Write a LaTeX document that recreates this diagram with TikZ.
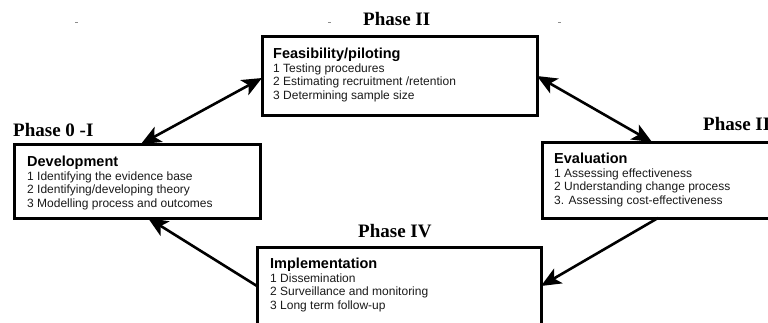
\documentclass[tikz,border=0pt]{standalone}
\usepackage{fontspec}
\setmainfont{Liberation Serif}
\newfontfamily\arial{Liberation Sans}
\usetikzlibrary{arrows.meta,calc}
\tikzset{
  box/.style={draw=black, line width=3pt, rectangle, outer sep=0pt, inner sep=0pt},
  phase/.style={anchor=base west, inner sep=0pt, font=\fontsize{19}{22}\selectfont\bfseries},
  ttl/.style={anchor=base west, inner sep=0pt, font=\arial\fontsize{14.5}{16}\selectfont\bfseries},
  itm/.style={anchor=base west, inner sep=0pt, font=\arial\fontsize{12}{13.5}\selectfont, text=black!90},
  conn/.style={line width=2.6pt, -{Stealth[length=20pt,width=17pt,inset=5pt]}},
  dconn/.style={line width=2.6pt, {Stealth[length=20pt,width=17pt,inset=5pt]}-{Stealth[length=20pt,width=17pt,inset=5pt]}},
  speck/.style={draw=black!45, line width=1pt}
}
\begin{document}
\begin{tikzpicture}[x=1pt,y=-1pt]
\useasboundingbox (0,0) rectangle (768,322);
% boxes
\node[box, minimum width=246pt, minimum height=74pt] (dev) at (137,181) {};
\node[box, minimum width=275pt, minimum height=79pt] (feas) at (399.5,75.5) {};
\node[box, minimum width=278pt, minimum height=76pt] (eval) at (681,180) {};
\node[box, minimum width=284pt, minimum height=93pt] (impl) at (399,293.5) {};
% phase labels
\node[phase] (p2) at (363,25) {Phase II};
\node[phase] (p0) at (13,136) {Phase 0 -I};
\node[phase] (p3) at (703,130) {Phase III};
\node[phase] (p4) at (358,237) {Phase IV};
% development text
\node[ttl] (d0) at ($(dev.north west)+(13,22)$) {Development};
\node[itm] (d1) at ($(dev.north west)+(13,36)$) {1 Identifying the evidence base};
\node[itm] (d2) at ($(dev.north west)+(13,49.5)$) {2 Identifying/developing theory};
\node[itm] (d3) at ($(dev.north west)+(13,63)$) {3 Modelling process and outcomes};
% feasibility text
\node[ttl] (f0) at ($(feas.north west)+(11,22)$) {Feasibility/piloting};
\node[itm] (f1) at ($(feas.north west)+(11,36)$) {1 Testing procedures};
\node[itm] (f2) at ($(feas.north west)+(11,49.5)$) {2 Estimating recruitment /retention};
\node[itm] (f3) at ($(feas.north west)+(11,63)$) {3 Determining sample size};
% evaluation text
\node[ttl] (e0) at ($(eval.north west)+(12,21)$) {Evaluation};
\node[itm] (e1) at ($(eval.north west)+(12,35)$) {1 Assessing effectiveness};
\node[itm] (e2) at ($(eval.north west)+(12,48.5)$) {2 Understanding change process};
\node[itm] (e3) at ($(eval.north west)+(12,62)$) {3. Assessing cost-effectiveness};
% implementation text
\node[ttl] (i0) at ($(impl.north west)+(13,21)$) {Implementation};
\node[itm] (i1) at ($(impl.north west)+(13,35)$) {1 Dissemination};
\node[itm] (i2) at ($(impl.north west)+(13,48.5)$) {2 Surveillance and monitoring};
\node[itm] (i3) at ($(impl.north west)+(13,62)$) {3 Long term follow-up};
% connector ends
\coordinate (a1s) at ($(dev.north west)+(127,0)$);
\coordinate (a1e) at ($(feas.north west)+(0,42)$);
\coordinate (a2s) at ($(feas.north east)+(0,40)$);
\coordinate (a2e) at ($(eval.north west)+(110,0)$);
\coordinate (a3s) at ($(eval.south west)+(116,0)$);
\coordinate (a3e) at ($(impl.north east)+(0,39)$);
\coordinate (a4s) at ($(impl.north west)+(0,39)$);
\coordinate (a4e) at ($(dev.south west)+(134,0)$);
\draw[dconn] (a1s) -- (a1e);
\draw[dconn] (a2s) -- (a2e);
\draw[conn] (a3s) -- (a3e);
\draw[conn] (a4s) -- (a4e);
% specks
\coordinate (s1) at (75,22); \coordinate (s1e) at (78,22);
\coordinate (s2) at (328,22); \coordinate (s2e) at (331,22);
\coordinate (s3) at (558,22); \coordinate (s3e) at (561,22);
\draw[speck] (s1) -- (s1e);
\draw[speck] (s2) -- (s2e);
\draw[speck] (s3) -- (s3e);
\end{tikzpicture}
\end{document}
